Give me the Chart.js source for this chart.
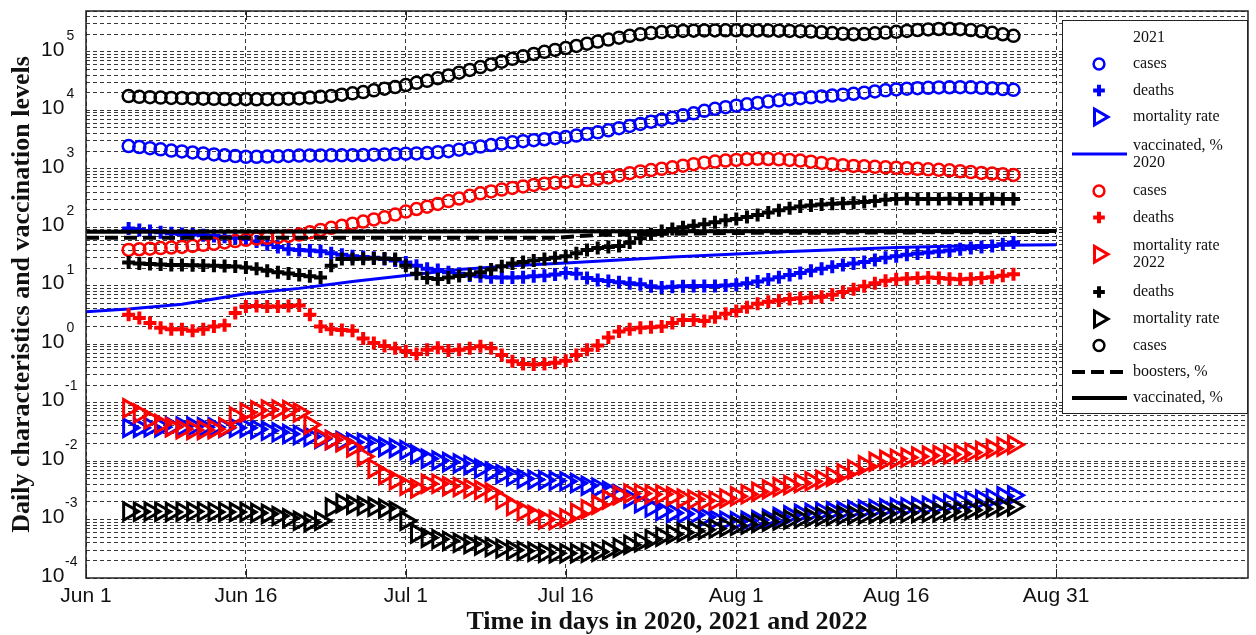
<!DOCTYPE html>
<html>
<head>
<meta charset="utf-8">
<title>Daily characteristics and vaccination levels</title>
<script src="https://cdn.jsdelivr.net/npm/chart.js@4.4.1/dist/chart.umd.min.js"></script>
<style>
  body { margin: 0; background: #fff; }
  canvas { display: block; }
</style>
</head>
<body>
<canvas id="myChart" width="1256" height="635"></canvas>
<script>
// day 0 = Jun 1, one marker per day from Jun 5 (day 4) to Aug 28 (day 87)
const days = [];
for (let d = 4; d <= 87; d++) days.push(d);

// x axis ticks
const xTickDays = [0, 15, 30, 45, 61, 76, 91];
const xTickLabels = ['Jun 1', 'Jun 16', 'Jul 1', 'Jul 16', 'Aug 1', 'Aug 16', 'Aug 31'];
// y axis labels are 10^k
const yTickPowers = [-4, -3, -2, -1, 0, 1, 2, 3, 4, 5];

// 2021 (blue)
const cases2021 = [
  2450, 2350, 2250, 2150, 2050, 1980, 1900, 1830, 1760, 1700,
  1650, 1600, 1600, 1620, 1640, 1660, 1680, 1690, 1690, 1700,
  1700, 1710, 1720, 1740, 1760, 1790, 1810, 1830, 1860, 1920,
  2000, 2120, 2250, 2400, 2550, 2700, 2830, 2960, 3080, 3200,
  3330, 3480, 3700, 3950, 4200, 4550, 4950, 5400, 5850, 6400,
  6900, 7500, 8200, 8900, 9800, 10600, 11300, 12000, 12700, 13400,
  14100, 14800, 15500, 16100, 16700, 17300, 17900, 18500, 19200, 20000,
  21000, 22000, 22800, 23400, 23900, 24300, 24600, 24800, 24900, 24700,
  24300, 23800, 23100, 22400
];
const deaths2021 = [
  95, 90, 86, 82, 79, 77, 75, 73, 71, 69,
  66, 63, 57, 51, 46, 42, 41, 40, 39, 36,
  34, 32, 31, 30, 28.5, 27, 25, 22, 19.5, 18.5,
  17, 16, 15, 14.5, 14, 13.8, 13.8, 14, 14.5, 14.8,
  15.5, 16.5, 16, 13.5, 12.5, 12, 11.5, 11, 10.6, 9.8,
  9.3, 9.6, 9.8, 9.9, 9.9, 9.9, 10.1, 10.4, 11, 11.8,
  12.8, 14, 15.2, 16.5, 18, 19.5, 21, 22.5, 24, 25.5,
  27.5, 30, 32, 34, 35.5, 37, 38.5, 40, 42, 44,
  46, 48, 51, 55
];
const mortality2021 = [
  0.037, 0.037, 0.038, 0.038, 0.039, 0.039, 0.039, 0.038, 0.038, 0.037,
  0.037, 0.037, 0.035, 0.033, 0.031, 0.029, 0.028, 0.026, 0.024, 0.023,
  0.022, 0.021, 0.0205, 0.019, 0.0175, 0.0168, 0.0155, 0.013, 0.011, 0.0102,
  0.0096, 0.0091, 0.0085, 0.0075, 0.0066, 0.006, 0.0055, 0.005, 0.0048, 0.0047,
  0.0046, 0.0045, 0.0042, 0.0038, 0.0035, 0.0031, 0.0027, 0.0023, 0.0019, 0.0016,
  0.0014, 0.0013, 0.00125, 0.0012, 0.0011, 0.001, 0.00095, 0.00093, 0.00095, 0.00098,
  0.00103, 0.0011, 0.00118, 0.00125, 0.0013, 0.00135, 0.00138, 0.0014, 0.00145, 0.00148,
  0.00152, 0.00156, 0.0016, 0.00163, 0.00167, 0.00172, 0.0018, 0.0019, 0.002, 0.0021,
  0.0022, 0.0023, 0.0025, 0.0026
];
const vaccDays2021 = [0, 4, 9, 15, 20, 25, 30, 35, 40, 45, 50, 55, 61, 66, 71, 76, 81, 86, 91];
const vacc2021 = [3.6, 4.0, 4.8, 7.3, 9.0, 11.8, 15.0, 19.0, 22.0, 24.5, 27.5, 31, 35, 38.5, 41.5, 45, 47.5, 49, 50];

// 2020 (red)
const cases2020 = [
  41, 42, 43, 44, 45, 46, 48, 50, 52, 55,
  58, 61, 64, 66, 68, 71, 75, 82, 90, 98,
  106, 115, 125, 136, 148, 165, 185, 205, 225, 250,
  280, 310, 345, 380, 410, 440, 470, 500, 530, 555,
  575, 595, 615, 640, 670, 710, 770, 840, 900, 950,
  1000, 1060, 1130, 1200, 1270, 1330, 1380, 1420, 1460, 1480,
  1470, 1450, 1420, 1380, 1320, 1260, 1200, 1150, 1120, 1100,
  1080, 1060, 1040, 1020, 1000, 980, 960, 940, 910, 880,
  850, 830, 805, 785
];
const deaths2020 = [
  3.2, 2.8, 2.3, 1.9, 1.8, 1.8, 1.7, 1.8, 2.0, 2.1,
  3.4, 4.4, 4.5, 4.4, 4.4, 4.5, 4.6, 3.2, 2.0, 1.8,
  1.75, 1.7, 1.25, 1.05, 0.93, 0.85, 0.76, 0.68, 0.8, 0.87,
  0.78, 0.8, 0.85, 0.92, 0.85, 0.65, 0.51, 0.46, 0.45, 0.46,
  0.48, 0.52, 0.65, 0.8, 0.95, 1.3, 1.65, 1.8, 1.9, 1.95,
  2.0, 2.3, 2.6, 2.6, 2.5, 2.9, 3.3, 3.7, 4.3, 4.9,
  5.3, 5.6, 5.9, 6.1, 6.3, 6.5, 7.0, 7.8, 8.7, 9.8,
  11, 12.2, 12.9, 13.3, 13.6, 13.8, 13.5, 13.1, 12.9, 13.2,
  13.6, 14, 14.8, 15.7
];
const mortality2020 = [
  0.08, 0.065, 0.052, 0.043, 0.038, 0.035, 0.034, 0.034, 0.035, 0.038,
  0.058, 0.068, 0.074, 0.076, 0.076, 0.075, 0.068, 0.042, 0.025, 0.023,
  0.021, 0.017, 0.012, 0.0075, 0.0058, 0.0047, 0.0038, 0.0034, 0.0041, 0.0041,
  0.0037, 0.0036, 0.0034, 0.0032, 0.0029, 0.0022, 0.0017, 0.0014, 0.0012, 0.001,
  0.00098, 0.00105, 0.0013, 0.0015, 0.0018, 0.0022, 0.0026, 0.0028, 0.0028, 0.0027,
  0.0027, 0.0025, 0.0023, 0.0022, 0.0021, 0.0021, 0.0023, 0.0025, 0.0027, 0.003,
  0.0033, 0.0036, 0.0039, 0.0042, 0.0045, 0.0048, 0.0054, 0.0062, 0.0072, 0.0085,
  0.0097, 0.0105, 0.011, 0.0115, 0.012, 0.0124, 0.0127, 0.013, 0.0133, 0.014,
  0.015, 0.0163, 0.0176, 0.019
];

// 2022 (black)
const deaths2022 = [
  25, 24, 23.4, 23, 22.7, 22.5, 22.3, 22.1, 22, 21.8,
  21.2, 20.5, 19.5, 18, 17, 16.2, 15.3, 14.5, 13.8, 22,
  28.5, 28.5, 29, 29.3, 29.3, 28.5, 22, 16, 13.5, 13,
  13.8, 14.7, 15.7, 17, 19, 21.5, 24, 25.5, 27, 28.5,
  30, 32, 36, 41, 44, 46, 48, 55, 65, 76,
  86, 93, 100, 106, 113, 122, 132, 138, 150, 162,
  178, 195, 212, 226, 236, 245, 252, 258, 263, 270,
  282, 295, 304, 306, 305, 304, 305, 306, 305, 304,
  305, 306, 305, 304
];
const mortality2022 = [
  0.00137, 0.00136, 0.00137, 0.00136, 0.00135, 0.00136, 0.00137, 0.00136, 0.00135, 0.00135,
  0.00134, 0.00134, 0.0013, 0.00125, 0.00115, 0.00105, 0.00095, 0.0009, 0.00095, 0.0016,
  0.0019, 0.0018, 0.00172, 0.00165, 0.00155, 0.0014, 0.00095, 0.00058, 0.00049, 0.00046,
  0.00043, 0.0004, 0.00038, 0.00036, 0.00034, 0.00032, 0.0003, 0.00029, 0.00028, 0.00027,
  0.000265, 0.000265, 0.000265, 0.00027, 0.00028, 0.0003, 0.00033, 0.00037, 0.00041, 0.00046,
  0.00051, 0.00056, 0.0006, 0.00064, 0.00067, 0.0007, 0.00074, 0.00078, 0.00082, 0.00087,
  0.00092, 0.00096, 0.001, 0.00104, 0.00108, 0.00112, 0.00115, 0.00118, 0.0012, 0.00122,
  0.00125, 0.00127, 0.00128, 0.00129, 0.0013, 0.00131, 0.00133, 0.00136, 0.0014, 0.00145,
  0.00152, 0.00158, 0.00163, 0.00167
];
const cases2022 = [
  17500, 17000, 16800, 16500, 16300, 16200, 16000, 15800, 15700, 15600,
  15500, 15500, 15400, 15500, 15600, 15800, 16000, 16500, 17000, 17600,
  18500, 19500, 20500, 22000, 23500, 25000, 27000, 29500, 32000, 35500,
  39500, 44000, 49000, 55000, 61000, 68000, 76000, 84000, 92000, 100000,
  108000, 116000, 126000, 138000, 150000, 162000, 175000, 188000, 200000, 210000,
  218000, 224000, 228000, 230000, 232000, 233000, 234000, 234000, 233000, 232000,
  231000, 230000, 228000, 226000, 222000, 216000, 210000, 204000, 200000, 202000,
  208000, 214000, 220000, 228000, 236000, 242000, 246000, 248000, 244000, 236000,
  225000, 212000, 200000, 188000
];
const boosterDays2022 = [0, 44, 48, 61, 91];
const boosters2022 = [66, 66, 74, 80, 83];
const vaccDays2022 = [0, 91];
const vacc2022 = [84, 86];

// marker series (no line)
function markers(label, values, color, style, order) {
  const sizes = { circle: [6, 2.5], cross: [6.5, 4], triangle: [10, 3] };
  return {
    label: label,
    data: days.map((d, i) => ({ x: d, y: values[i] })),
    showLine: false,
    pointStyle: style,
    pointRotation: style === 'triangle' ? 90 : 0,
    pointRadius: sizes[style][0],
    pointBorderWidth: sizes[style][1],
    pointBorderColor: color,
    pointBackgroundColor: 'rgba(0,0,0,0)',
    order: order
  };
}

// line series (no markers)
function line(label, xs, values, color, width, dash, order) {
  return {
    label: label,
    data: xs.map((d, i) => ({ x: d, y: values[i] })),
    showLine: true,
    borderColor: color,
    borderWidth: width,
    borderDash: dash,
    pointRadius: 0,
    tension: 0,
    order: order
  };
}

const datasets = [
  markers('cases', cases2021, '#0000ff', 'circle', 3),
  markers('deaths', deaths2021, '#0000ff', 'cross', 3),
  markers('mortality rate', mortality2021, '#0000ff', 'triangle', 3),
  line('vaccinated, %', vaccDays2021, vacc2021, '#0000ff', 3, [], 3),
  markers('cases', cases2020, '#ff0000', 'circle', 2),
  markers('deaths', deaths2020, '#ff0000', 'cross', 2),
  markers('mortality rate', mortality2020, '#ff0000', 'triangle', 2),
  markers('deaths', deaths2022, '#000000', 'cross', 1),
  markers('mortality rate', mortality2022, '#000000', 'triangle', 1),
  markers('cases', cases2022, '#000000', 'circle', 1),
  line('boosters, %', boosterDays2022, boosters2022, '#000000', 4, [13, 6], 1),
  line('vaccinated, %', vaccDays2022, vacc2022, '#000000', 4, [], 1)
];

// legend rows: year headers sit as extra text lines like in the original figure
const legendRows = [
  { lines: ['2021'], ys: [38] },
  { ds: 0, lines: ['cases'], ys: [64] },
  { ds: 1, lines: ['deaths'], ys: [90.5] },
  { ds: 2, lines: ['mortality rate'], ys: [117] },
  { ds: 3, lines: ['vaccinated, %', '2020'], ys: [145.5, 162.5] },
  { ds: 4, lines: ['cases'], ys: [191] },
  { ds: 5, lines: ['deaths'], ys: [217.5] },
  { ds: 6, lines: ['mortality rate', '2022'], ys: [245.5, 263] },
  { ds: 7, lines: ['deaths'], ys: [292] },
  { ds: 8, lines: ['mortality rate'], ys: [319] },
  { ds: 9, lines: ['cases'], ys: [345.5] },
  { ds: 10, lines: ['boosters, %'], ys: [372] },
  { ds: 11, lines: ['vaccinated, %'], ys: [398] }
];

// frame, inward ticks, 10^k labels and the boxed legend
const decorPlugin = {
  id: 'decor',
  beforeDraw(chart) {
    const ctx = chart.ctx;
    ctx.save();
    ctx.fillStyle = '#fff';
    ctx.fillRect(0, 0, chart.width, chart.height);
    ctx.restore();
  },
  afterDraw(chart) {
    const ctx = chart.ctx;
    const area = chart.chartArea;
    const xs = chart.scales.x;
    const ys = chart.scales.y;
    ctx.save();

    // axes box
    ctx.strokeStyle = '#222';
    ctx.lineWidth = 1.5;
    ctx.strokeRect(area.left, area.top, area.right - area.left, area.bottom - area.top);

    // inward x ticks top and bottom
    ctx.lineWidth = 1;
    xTickDays.forEach(d => {
      const px = Math.round(xs.getPixelForValue(d)) + 0.5;
      ctx.beginPath();
      ctx.moveTo(px, area.bottom); ctx.lineTo(px, area.bottom - 9);
      ctx.moveTo(px, area.top); ctx.lineTo(px, area.top + 9);
      ctx.stroke();
    });

    // y labels with exponents
    ctx.fillStyle = '#111';
    ctx.textAlign = 'left';
    ctx.textBaseline = 'middle';
    yTickPowers.forEach(p => {
      const py = ys.getPixelForValue(Math.pow(10, p)) - 2;
      ctx.font = '21px "Liberation Sans", Arial, sans-serif';
      ctx.fillText('10', 41, py);
      ctx.font = '14px "Liberation Sans", Arial, sans-serif';
      ctx.fillText(p < 0 ? '-' + Math.abs(p) : String(p), p < 0 ? 65 : 66.5, py - 14);
    });

    // legend box
    const bx = 1062, by = 20, bw = area.right - 1062, bh = 393;
    ctx.fillStyle = '#fff';
    ctx.fillRect(bx, by, bw, bh);
    ctx.strokeStyle = '#222';
    ctx.lineWidth = 1;
    ctx.strokeRect(bx + 0.5, by + 0.5, bw - 1, bh);
    ctx.font = '16px "Liberation Serif", "Times New Roman", serif';
    ctx.textBaseline = 'middle';
    legendRows.forEach(row => {
      ctx.fillStyle = '#111';
      row.lines.forEach((t, i) => ctx.fillText(t, 1133, row.ys[i]));
      if (row.ds === undefined) return;
      const ds = chart.data.datasets[row.ds];
      const my = (row.ys[0] + row.ys[row.ys.length - 1]) / 2;
      if (ds.showLine) {
        ctx.strokeStyle = ds.borderColor;
        ctx.lineWidth = ds.borderWidth;
        ctx.setLineDash(ds.borderDash);
        ctx.beginPath();
        ctx.moveTo(1072, my);
        ctx.lineTo(1127, my);
        ctx.stroke();
        ctx.setLineDash([]);
      } else {
        ctx.strokeStyle = ds.pointBorderColor;
        ctx.fillStyle = 'rgba(0,0,0,0)';
        ctx.lineWidth = ds.pointBorderWidth;
        Chart.helpers.drawPoint(ctx, {
          pointStyle: ds.pointStyle,
          radius: ds.pointRadius * 0.9,
          rotation: ds.pointRotation,
          borderWidth: ds.pointBorderWidth
        }, 1099, my);
      }
    });
    ctx.restore();
  }
};

const gridStyle = { color: 'rgba(0,0,0,0.78)', lineWidth: 1, drawTicks: false };

const ctx = document.getElementById('myChart').getContext('2d');
const myChart = new Chart(ctx, {
  type: 'scatter',
  data: { datasets: datasets },
  options: {
    responsive: false,
    animation: false,
    devicePixelRatio: 1,
    events: [],
    layout: { autoPadding: false, padding: { top: 11, right: 8, left: 0, bottom: 0 } },
    plugins: { legend: { display: false }, tooltip: { enabled: false } },
    scales: {
      x: {
        type: 'linear',
        min: 0,
        max: 109,
        grid: gridStyle,
        border: { display: false, dash: [4, 3] },
        afterBuildTicks: scale => { scale.ticks = xTickDays.map(v => ({ value: v })); },
        afterFit: scale => { scale.height = 57; },
        ticks: {
          autoSkip: false,
          maxRotation: 0,
          padding: 6,
          color: '#111',
          font: { family: '"Liberation Sans", Arial, sans-serif', size: 21 },
          callback: v => xTickLabels[xTickDays.indexOf(v)]
        },
        title: {
          display: true,
          text: 'Time in days in 2020, 2021 and 2022',
          color: '#111',
          font: { family: '"Liberation Serif", "Times New Roman", serif', size: 26, weight: 'bold', lineHeight: 1 },
          padding: { top: 0, bottom: 0 }
        }
      },
      y: {
        type: 'logarithmic',
        min: 1e-4,
        max: 5e5,
        grid: gridStyle,
        border: { display: false, dash: [4, 3] },
        afterBuildTicks: scale => {
          const t = [];
          for (let k = -4; k <= 5; k++) {
            for (let m = 1; m <= 9; m++) {
              const v = m * Math.pow(10, k);
              if (v <= 5e5 * 1.0001) t.push({ value: v, major: m === 1 });
            }
          }
          scale.ticks = t;
        },
        afterFit: scale => { scale.width = 86; },
        ticks: { display: false },
        title: {
          display: true,
          text: 'Daily characteristics and vaccination levels',
          color: '#111',
          font: { family: '"Liberation Serif", "Times New Roman", serif', size: 26, weight: 'bold', lineHeight: 1 },
          padding: { top: 9, bottom: 0 }
        }
      }
    }
  },
  plugins: [decorPlugin]
});
</script>
</body>
</html>
